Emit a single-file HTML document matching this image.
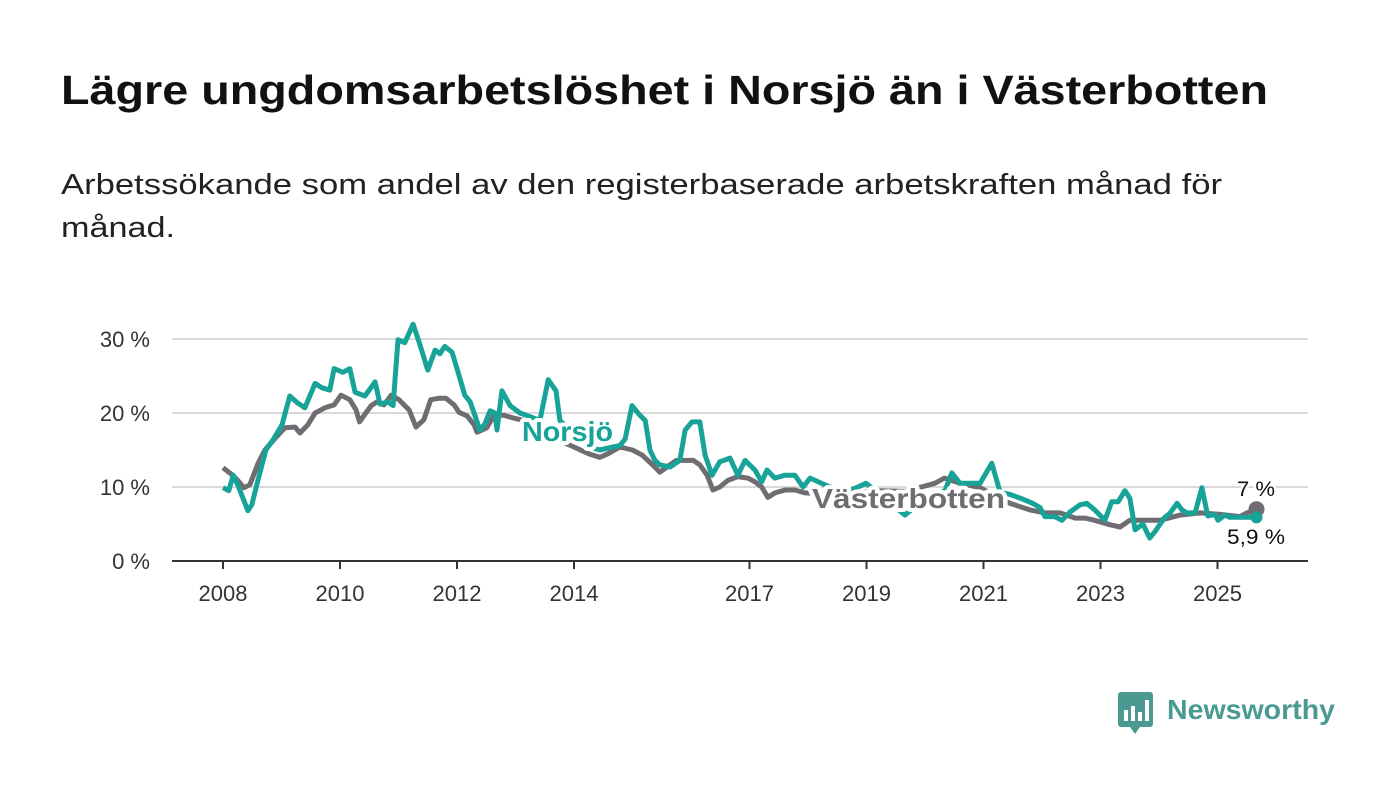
<!DOCTYPE html>
<html><head><meta charset="utf-8"><style>
body{margin:0;background:#fff;width:1400px;height:794px;overflow:hidden;font-family:"Liberation Sans","DejaVu Sans",sans-serif}
</style></head><body>
<svg width="1400" height="794" xmlns="http://www.w3.org/2000/svg">
<text x="61" y="104" font-size="41" font-weight="bold" fill="#111" textLength="1207" lengthAdjust="spacingAndGlyphs">Lägre ungdomsarbetslöshet i Norsjö än i Västerbotten</text>
<text x="61" y="194" font-size="29" fill="#222" textLength="1161" lengthAdjust="spacingAndGlyphs">Arbetssökande som andel av den registerbaserade arbetskraften månad för</text>
<text x="61" y="237" font-size="29" fill="#222" textLength="114" lengthAdjust="spacingAndGlyphs">månad.</text>
<g id="grid"></g><g id="axes"></g><g id="series"></g><g id="labels"></g>
<g>
<rect x="1118" y="692" width="35" height="35" rx="3" fill="#4a9a91"/>
<polygon points="1130,727 1140,727 1135,734" fill="#4a9a91"/>
<rect x="1124" y="710" width="4" height="11" fill="#fff"/><rect x="1131" y="706" width="4" height="15" fill="#fff"/><rect x="1138" y="712" width="4" height="9" fill="#fff"/><rect x="1145" y="700" width="4" height="21" fill="#fff"/>
<text x="1167" y="719" font-size="28" font-weight="bold" fill="#4a9a91" textLength="168" lengthAdjust="spacingAndGlyphs">Newsworthy</text>
</g>
</svg>
<script>
const yTicks=[0,10,20,30];
const yearTicks=[2008,2010,2012,2014,2017,2019,2021,2023,2025];
const norsjoMonths=[0,1.2,2.1,2.9,5.1,5.9,7.2,8.8,10.3,12.1,13.7,15.2,16.8,18.9,20.3,21.9,22.8,24.6,26,27.1,29.1,31.2,32.2,33.8,34.9,35.9,37.3,39,40.4,42,43.5,44.5,45.5,47,48,49.6,50.7,52.7,53.7,54.8,55.8,56.2,57.2,58.9,60.9,63,65,66.7,68.3,69.1,72.2,75.3,77.3,80,81.4,82.5,83.9,85.5,86.6,87.6,88.6,89.6,91.7,93.7,94.8,96.2,97.8,98.9,100.3,101.9,104,105.6,107.1,109.1,110.5,111.6,113.2,115.3,117.3,119,120.4,124.5,128.6,131.9,134.8,139.9,144,148.1,149.5,151.2,155.3,157.7,159.4,161.4,163.5,166.1,167.6,168.6,170.6,172.1,173.7,175.8,177.2,178.8,180.9,182.3,183.6,185,186,187.1,188.7,190.1,191.2,193.2,194.2,195.7,196.7,197.7,199.4,200.8,202,203.5,204.1,205.5,206.5,208.6,212];
const norsjoValues=[9.9,9.5,11.6,10.5,6.8,7.6,11,15,16.4,18.4,22.3,21.4,20.7,24,23.4,23.1,26,25.5,26,22.8,22.3,24.2,21.2,21.5,21,29.9,29.5,32,29.2,25.8,28.5,28,29,28.2,26,22.4,21.5,17.7,18.5,20.3,20,17.7,23,21,20,19.5,19,24.5,23,19,17,15.4,15,15.4,15.6,16.5,21,19.7,19,15,13.6,13,12.7,13.6,17.7,18.8,18.8,14.3,11.6,13.4,13.9,11.6,13.6,12.3,10.7,12.3,11.2,11.6,11.6,10,11.2,10,9.5,10.5,9,6.2,8.5,9.5,11.9,10.5,10.5,13.2,9.3,9,8.5,7.8,7.2,6,6,5.5,6.6,7.6,7.8,6.9,5.5,8,8,9.5,8.5,4.2,5,3.1,4,5.9,6.4,7.8,6.9,6.5,6.5,9.9,6.1,6.3,5.5,6.2,5.9,5.9,5.9];
const vbMonths=[0,2,3,4.3,5.5,7.2,8.6,10.7,12.7,14.8,15.8,17.4,18.9,20.9,22.8,24.2,26,27.3,28,29.3,30.4,31.6,33,34.5,36.1,38.2,39.6,41.2,42.6,44.3,45.7,47.4,48.4,50.1,51.5,52.1,54.1,55.6,57.6,59.7,61.7,65,70,75,77.3,79,81.4,84,86,88.6,89.6,91.7,93,94.8,96.5,97.8,99.3,100.5,101.9,103.6,105.6,107.7,109.1,110.5,111.8,113.2,115.3,117.3,119.4,124.5,130,135,140,146,148,151.2,155.3,161.4,165.5,168.6,171.7,174.8,176.8,178.8,181.9,184,186,189,192.2,196.3,200.4,204.5,208.6,210,212];
const vbValues=[12.6,11.6,10.9,9.9,10.3,13.2,15,16.6,18,18.1,17.3,18.4,20,20.7,21.1,22.4,21.8,20.4,18.8,20,21,21.5,21.1,22.4,21.8,20.4,18.1,19.1,21.8,22,22,21.1,20.1,19.6,18.4,17.4,18,19.7,19.7,19.3,19,18,16,14.5,14,14.5,15.4,15,14.3,12.7,12,13,13.6,13.6,13.6,13,11.6,9.6,10,10.9,11.4,11.2,10.7,10,8.6,9.2,9.6,9.6,9.2,9,9.2,9.5,9.4,10.5,11.2,10.5,9.9,7.8,6.9,6.5,6.5,5.8,5.8,5.5,4.9,4.6,5.5,5.5,5.5,6.2,6.5,6.3,6,6.5,7];
const NS="http://www.w3.org/2000/svg";
const xM=m=>223+m*58.5/12;
const xY=y=>xM((y-2008)*12);
const yV=v=>561-v*7.4;
function mk(tag,attrs,parent){const e=document.createElementNS(NS,tag);for(const k in attrs)e.setAttribute(k,attrs[k]);parent.appendChild(e);return e;}
const grid=document.getElementById('grid'),axes=document.getElementById('axes'),series=document.getElementById('series'),labels=document.getElementById('labels');
yTicks.forEach(t=>{
 if(t>0){const g=mk('line',{x1:172,x2:1308,y1:yV(t),y2:yV(t),stroke:'#d9d9d9','stroke-width':2},grid);
 
 }
 const tx=mk('text',{x:150,y:yV(t)+8,'font-size':22,fill:'#333','text-anchor':'end'},axes);
 tx.textContent=t+' %';
 
 
});
const ax=mk('line',{x1:172,x2:1308,y1:561,y2:561,stroke:'#333','stroke-width':2},axes);


yearTicks.forEach(y=>{
 const x=xY(y);
 const tk=mk('line',{x1:x,x2:x,y1:561,y2:569,stroke:'#333','stroke-width':2},axes);
 
 
 const tx=mk('text',{x:x,y:601,'font-size':22,fill:'#333','text-anchor':'middle'},axes);
 tx.textContent=y;
 
 
});
function line(ms,vs,color,name){
 const d=ms.map((m,i)=>(i?'L':'M')+xM(m).toFixed(1)+','+yV(vs[i]).toFixed(1)).join('');
 const p=mk('path',{d:d,fill:'none',stroke:color,'stroke-width':5,'stroke-linejoin':'round'},series);
 
 
}
line(vbMonths,vbValues,'#6f6c72','vasterbotten-line');
line(norsjoMonths,norsjoValues,'#17a398','norsjo-line');
const d1=mk('circle',{cx:xM(vbMonths[vbMonths.length-1]),cy:yV(vbValues[vbValues.length-1]),r:8,fill:'#6f6c72'},series);


const d2=mk('circle',{cx:xM(norsjoMonths[norsjoMonths.length-1]),cy:yV(norsjoValues[norsjoValues.length-1]),r:6,fill:'#17a398'},series);


function lab(x,y,txt,color,size,bold,name,len){
 const t=mk('text',{x:x,y:y,'font-size':size,'font-weight':bold?'bold':'normal',fill:color,stroke:'#fff','stroke-width':bold?8:5,'paint-order':'stroke','stroke-linejoin':'round',textLength:len,lengthAdjust:'spacingAndGlyphs'},labels);
 t.textContent=txt;
 
 
}
lab(522,441,'Norsjö','#17a398',28,true,'norsjo-label',91);
lab(812,508,'Västerbotten','#6f6c72',28,true,'vasterbotten-label',193);
lab(1237,496,'7 %','#111',21,false,'vasterbotten-end-value',38);
lab(1227,544,'5,9 %','#111',21,false,'norsjo-end-value',58);
</script>
</body></html>
